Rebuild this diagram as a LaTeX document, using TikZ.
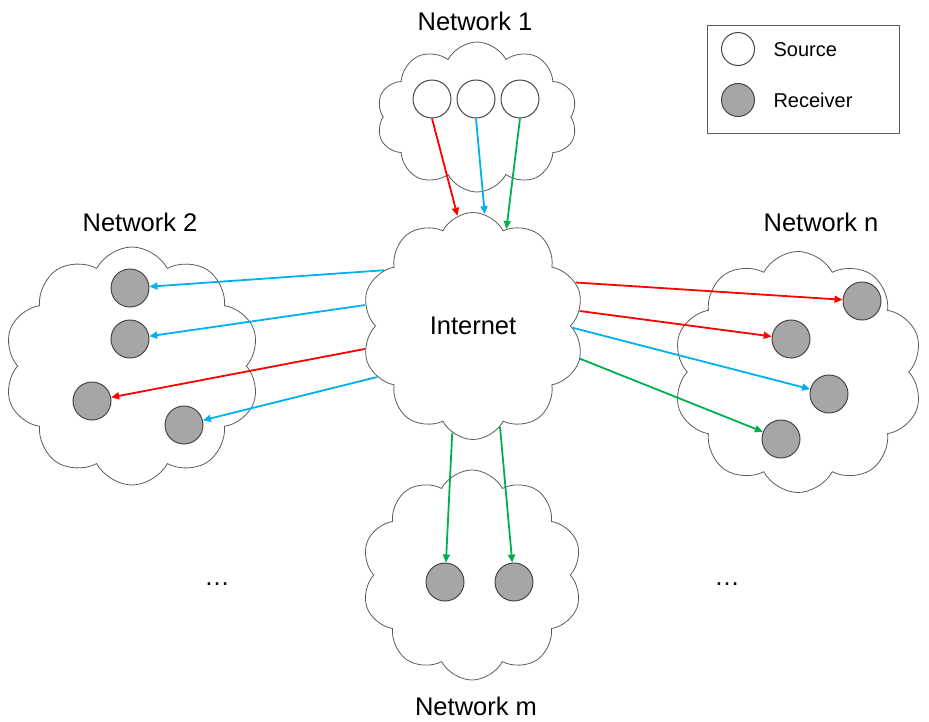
\documentclass[tikz,border=0pt]{standalone}
\usepackage{fontspec}
\setmainfont{Liberation Sans}
\usetikzlibrary{shapes.symbols,arrows.meta}

\definecolor{flowred}{RGB}{255,0,0}
\definecolor{flowblue}{RGB}{0,176,240}
\definecolor{flowgreen}{RGB}{0,176,80}
\definecolor{recgray}{RGB}{166,166,166}
\definecolor{cloudline}{RGB}{90,90,90}
\definecolor{hostline}{RGB}{70,70,70}

\begin{document}
\begin{tikzpicture}[
    % one unit is one pixel of the reference, y runs downwards
    x=1pt, y=-1pt,
    netcloud/.style={cloud, cloud puffs=10, cloud puff arc=125, cloud ignores aspect,
        draw=cloudline, line width=0.8pt, inner sep=0pt},
    host/.style={circle, draw=hostline, line width=1pt, minimum size=38pt, inner sep=0pt},
    source/.style={host, fill=white},
    receiver/.style={host, fill=recgray},
    flow/.style={line width=1.8pt, -{Triangle[length=8pt,width=7pt]}},
    netname/.style={font=\fontsize{25.5}{30}\selectfont},
    legendtext/.style={font=\fontsize{20}{24}\selectfont, anchor=west}
]
    \useasboundingbox (0,0) rectangle (929,721);

    % --- The clouds ---
    \node[netcloud, minimum width=201, minimum height=150] (net1) at (477,117) {};
    \node[netcloud, minimum width=223, minimum height=227, netname] (inet) at (473,326) {Internet};
    \node[netcloud, minimum width=256, minimum height=238] (net2) at (132,366) {};
    \node[netcloud, minimum width=250, minimum height=241] (netn) at (798,372) {};
    \node[netcloud, minimum width=221, minimum height=210] (netm) at (472,575) {};

    % --- Network names ---
    \node[netname] (name1) at (475,21) {Network 1};
    \node[netname] (name2) at (140,222) {Network 2};
    \node[netname] (namen) at (821,222) {Network n};
    \node[netname] (namem) at (476,706) {Network m};
    \node[netname] (dotsl) at (217,584) {…};
    \node[netname] (dotsr) at (727,584) {…};

    % --- Sources in network 1 ---
    \node[source] (s1) at (432,99) {};
    \node[source] (s2) at (476,99) {};
    \node[source] (s3) at (520,99) {};

    % --- Receivers ---
    \node[receiver] (a1) at (130,288) {};
    \node[receiver] (a2) at (130,339) {};
    \node[receiver] (a3) at (92,401) {};
    \node[receiver] (a4) at (184,425) {};

    \node[receiver] (b1) at (862,301) {};
    \node[receiver] (b2) at (791,339) {};
    \node[receiver] (b3) at (829,394) {};
    \node[receiver] (b4) at (781,439) {};

    \node[receiver] (c1) at (445,582) {};
    \node[receiver] (c2) at (514,582) {};

    % --- Flows ---
    \draw[flow, flowred] (s1.south) -- (inet.98);
    \draw[flow, flowblue] (s2.south) -- (inet.84);
    \draw[flow, flowgreen] (s3.south) -- (inet.71);

    \draw[flow, flowblue] (inet.148) -- (a1);
    \draw[flow, flowblue] (inet.169) -- (a2);
    \draw[flow, flowred] (inet.192) -- (a3);
    \draw[flow, flowblue] (inet.208) -- (a4);

    \draw[flow, flowred] (inet.23) -- (b1);
    \draw[flow, flowred] (inet.8) -- (b2);
    \draw[flow, flowblue] (inet.-1) -- (b3);
    \draw[flow, flowgreen] (inet.-17) -- (b4);

    \draw[flow, flowgreen] (inet.259) -- (c1);
    \draw[flow, flowgreen] (inet.285) -- (c2);

    % --- Legend ---
    \node[draw=cloudline, line width=0.8pt, minimum width=192, minimum height=108,
        inner sep=0pt] (legend) at (803,79) {};
    \node[source, minimum size=33pt] (lsrc) at (738,49) {};
    \node[receiver, minimum size=33pt] (lrec) at (738,100) {};
    \node[legendtext] (lsrctext) at (770,50) {Source};
    \node[legendtext] (lrectext) at (770,100) {Receiver};
\end{tikzpicture}
\end{document}
